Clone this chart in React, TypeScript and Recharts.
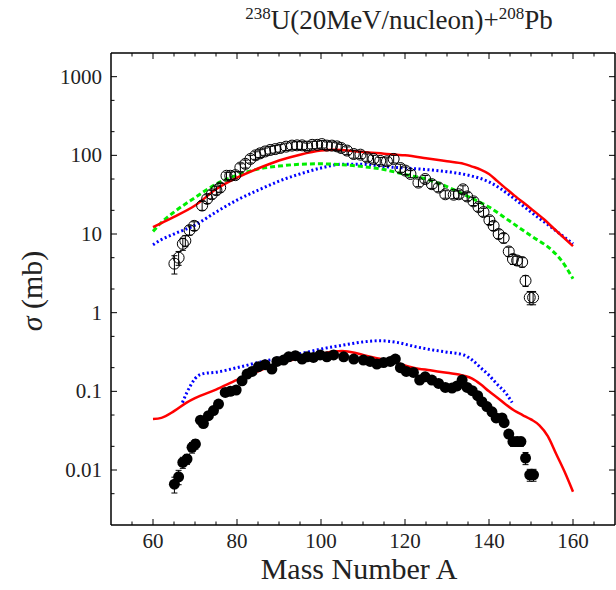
import React from "react";
import {
  ComposedChart,
  Line,
  Scatter,
  ErrorBar,
  XAxis,
  YAxis,
} from "recharts";

// measured points: [A, sigma (mb), error]
const upperData: number[][] = [
  [65.1, 4.2, 1.1], [66.1, 5.0, 1.0], [67.1, 7.5, 1.3], [67.7, 8.2, 1.3],
  [68.7, 11.2, 1.5], [69.8, 12.7, 1.6], [71.7, 23, 3], [72.9, 28, 3.5],
  [74.0, 32, 4], [75.1, 36, 4.5], [76.0, 39, 5], [77.5, 55, 6],
  [78.4, 55, 6], [79.6, 56, 6], [80.8, 70, 8], [82.0, 78, 9],
  [83.2, 90, 10], [84.4, 100, 11], [85.5, 106, 12], [86.7, 112, 12],
  [87.9, 117, 13], [89.1, 120, 13], [90.3, 124, 14], [91.7, 129, 14],
  [93.1, 133, 15], [94.3, 134, 15], [95.5, 134, 15], [96.7, 129, 14],
  [97.9, 136, 15], [99.1, 136, 15], [100.2, 139, 15], [101.4, 133, 15],
  [102.6, 133, 15], [103.8, 130, 14], [104.8, 124, 14], [106.2, 115, 13],
  [107.8, 104, 12], [109.4, 102, 11], [111.0, 94, 10], [112.5, 90, 10],
  [114.1, 85, 9], [115.7, 84, 9], [117.3, 90, 10], [118.9, 69, 8],
  [120.1, 64, 7], [121.3, 58, 6], [123.2, 45, 5], [124.8, 50, 5.5],
  [126.4, 43, 5], [128.0, 39, 4.5], [129.6, 32, 3.5], [131.6, 31.6, 3.5],
  [132.8, 32, 3.5], [133.8, 37, 4], [134.8, 30, 3.5], [136.3, 26, 3],
  [137.5, 22, 2.5], [138.7, 19, 2.2], [140.1, 15, 1.8], [141.1, 12.7, 1.6],
  [142.3, 10, 1.3], [143.5, 8.9, 1.2], [144.7, 6.0, 0.8], [145.7, 4.8, 0.7],
  [146.7, 4.6, 0.6], [147.9, 4.4, 0.6], [148.7, 2.55, 0.4], [149.7, 1.56, 0.3],
  [150.5, 1.56, 0.3],
];

const lowerData: number[][] = [
  [65.1, 0.0066, 0.0015], [66.1, 0.0082, 0.0017], [67.1, 0.0125, 0.002],
  [68.1, 0.0138, 0.002], [69.3, 0.0194, 0.003], [70.1, 0.0214, 0.003],
  [71.3, 0.043, 0.004], [72.0, 0.039, 0.004], [73.2, 0.049, 0.005],
  [74.4, 0.057, 0.006], [75.6, 0.069, 0.007], [77.2, 0.097, 0.01],
  [78.4, 0.1, 0.01], [79.8, 0.104, 0.01], [81.2, 0.136, 0.014],
  [82.4, 0.166, 0.017], [83.6, 0.179, 0.018], [85.1, 0.206, 0.02],
  [86.7, 0.218, 0.022], [88.3, 0.192, 0.02], [89.5, 0.24, 0.024],
  [91.1, 0.25, 0.025], [92.3, 0.275, 0.027], [93.9, 0.284, 0.028],
  [95.5, 0.257, 0.026], [96.7, 0.275, 0.027], [98.2, 0.27, 0.027],
  [99.8, 0.29, 0.029], [101.4, 0.275, 0.027], [103.0, 0.29, 0.029],
  [105.4, 0.275, 0.027], [107.8, 0.257, 0.026], [110.1, 0.25, 0.025],
  [111.7, 0.24, 0.024], [113.3, 0.222, 0.022], [114.9, 0.232, 0.023],
  [116.5, 0.24, 0.024], [117.7, 0.257, 0.026], [118.9, 0.2, 0.02],
  [120.3, 0.179, 0.018], [122.0, 0.174, 0.017], [123.5, 0.139, 0.014],
  [124.8, 0.153, 0.015], [126.4, 0.139, 0.014], [128.0, 0.126, 0.013],
  [129.6, 0.112, 0.011], [131.2, 0.11, 0.011], [132.4, 0.117, 0.012],
  [133.6, 0.139, 0.014], [134.8, 0.112, 0.011], [136.0, 0.102, 0.01],
  [137.3, 0.088, 0.009], [138.3, 0.074, 0.007], [139.5, 0.064, 0.006],
  [140.7, 0.055, 0.006], [141.7, 0.046, 0.005], [143.1, 0.046, 0.005],
  [143.6, 0.04, 0.004], [144.7, 0.0286, 0.003], [145.7, 0.023, 0.003],
  [146.7, 0.023, 0.003], [147.6, 0.023, 0.003], [148.7, 0.0142, 0.0025],
  [149.7, 0.0087, 0.0015], [150.6, 0.0087, 0.0015],
];

// model curves: [A, sigma]
const redUpper: number[][] = [
  [60, 12.2], [62, 13.8], [65, 16.5], [70, 23], [75, 37], [80, 52],
  [85, 68], [90, 86], [95, 102], [100, 115], [103, 118], [105, 117],
  [110, 110], [115, 105], [120, 100], [125, 92], [130, 84], [134, 78],
  [136, 72], [138, 66], [140, 58], [142, 47], [144, 38], [146, 31],
  [150, 21], [153, 15.5], [156, 11], [160, 7.0],
];

const greenUpper: number[][] = [
  [60, 10.8], [62, 14], [65, 19], [70, 29], [75, 43], [80, 56],
  [85, 67], [90, 73], [95, 77], [100, 78], [105, 76], [110, 72],
  [115, 66], [120, 57], [125, 50], [130, 40], [135, 30], [140, 22],
  [145, 14.5], [150, 9.5], [155, 6.2], [157, 4.8], [160, 2.7],
];

const blueUpper: number[][] = [
  [60, 7.3], [62, 8.5], [65, 10], [70, 13], [75, 19], [80, 27],
  [85, 36], [90, 47], [95, 58], [100, 69], [105, 77], [110, 77],
  [115, 72], [120, 69], [125, 66], [130, 62], [135, 56], [140, 46],
  [145, 31], [150, 19], [155, 12], [160, 7.5],
];

const redLower: number[][] = [
  [60, 0.0445], [62, 0.046], [65, 0.056], [68, 0.072], [70, 0.082],
  [75, 0.105], [80, 0.14], [85, 0.18], [90, 0.225], [95, 0.265],
  [100, 0.3], [103, 0.32], [105, 0.325], [108, 0.31], [110, 0.29],
  [114, 0.26], [118, 0.23], [122, 0.2], [126, 0.185], [130, 0.172],
  [134, 0.158], [136, 0.145], [138, 0.123], [140, 0.1], [142, 0.083],
  [144, 0.068], [146, 0.057], [148, 0.05], [150, 0.044], [152, 0.037],
  [154, 0.027], [156, 0.016], [158, 0.0095], [160, 0.0053],
];

const blueLower: number[][] = [
  [67, 0.072], [68, 0.095], [69, 0.12], [70, 0.145], [72, 0.168],
  [75, 0.175], [80, 0.2], [85, 0.232], [90, 0.265], [95, 0.3],
  [100, 0.345], [105, 0.385], [110, 0.425], [114, 0.44], [118, 0.42],
  [122, 0.375], [126, 0.34], [130, 0.315], [134, 0.29], [136, 0.25],
  [138, 0.2], [140, 0.16], [142, 0.122], [144, 0.095], [145.5, 0.072],
];

const xTicks = [55, 60, 65, 70, 75, 80, 85, 90, 95, 100, 105, 110, 115, 120, 125, 130, 135, 140, 145, 150, 155, 160, 165];
const xMajor = [60, 80, 100, 120, 140, 160];
const yTicks = [0.005, 0.01, 0.02, 0.05, 0.1, 0.2, 0.5, 1, 2, 5, 10, 20, 50, 100, 200, 500, 1000];
const yMajor = [0.01, 0.1, 1, 10, 100, 1000];

const pts = (rows: number[][]) => rows.map((r) => ({ a: r[0], s: r[1], e: r[2] }));

const FONT = "'Liberation Serif', 'DejaVu Serif', serif";

const BottomTick = (p: any) => {
  const major = xMajor.includes(p.payload.value);
  return (
    <g>
      <line x1={p.x} x2={p.x} y1={p.y} y2={p.y - (major ? 6 : 3.5)} stroke="#000" />
      {major && (
        <text x={p.x} y={p.y + 23} textAnchor="middle" fontFamily={FONT} fontSize={21} fill="#222">
          {p.payload.value}
        </text>
      )}
    </g>
  );
};

const TopTick = (p: any) => {
  const major = xMajor.includes(p.payload.value);
  return <line x1={p.x} x2={p.x} y1={p.y} y2={p.y + (major ? 6 : 3.5)} stroke="#000" />;
};

const LeftTick = (p: any) => {
  const major = yMajor.includes(p.payload.value);
  return (
    <g>
      <line x1={p.x} x2={p.x + (major ? 6 : 3.5)} y1={p.y} y2={p.y} stroke="#000" />
      {major && (
        <text x={p.x - 9} y={p.y + 7} textAnchor="end" fontFamily={FONT} fontSize={21} fill="#222">
          {p.payload.value}
        </text>
      )}
    </g>
  );
};

const RightTick = (p: any) => {
  const major = yMajor.includes(p.payload.value);
  return <line x1={p.x} x2={p.x - (major ? 6 : 3.5)} y1={p.y} y2={p.y} stroke="#000" />;
};

const OpenCircle = (p: any) => (
  <circle cx={p.cx} cy={p.cy} r={5.5} fill="none" stroke="#000" strokeWidth={1} />
);
const FilledCircle = (p: any) => <circle cx={p.cx} cy={p.cy} r={5.5} fill="#000" />;

export default function App() {
  return (
    <div style={{ position: "absolute", left: 0, top: 0, width: 616, height: 590, background: "#fff" }}>
      <ComposedChart width={616} height={590} margin={{ top: 52, right: 0, left: 30, bottom: 25 }}>
        <XAxis
          xAxisId={0}
          dataKey="a"
          type="number"
          domain={[50, 170]}
          ticks={xTicks}
          interval={0}
          tick={BottomTick}
          tickLine={false}
          tickSize={0}
          tickMargin={0}
          height={40}
          axisLine={{ stroke: "#000", strokeWidth: 1.5 }}
          allowDataOverflow
        />
        <XAxis
          xAxisId="top"
          orientation="top"
          dataKey="a"
          type="number"
          domain={[50, 170]}
          ticks={xTicks}
          interval={0}
          tick={TopTick}
          tickLine={false}
          tickSize={0}
          tickMargin={0}
          height={1}
          axisLine={{ stroke: "#000", strokeWidth: 1.5 }}
          allowDataOverflow
        />
        <YAxis
          yAxisId={0}
          type="number"
          scale="log"
          domain={[0.002, 2000]}
          ticks={yTicks}
          interval={0}
          tick={LeftTick}
          tickLine={false}
          tickSize={0}
          tickMargin={0}
          width={81}
          axisLine={{ stroke: "#000", strokeWidth: 1.5 }}
          allowDataOverflow
        />
        <YAxis
          yAxisId="right"
          orientation="right"
          type="number"
          scale="log"
          domain={[0.002, 2000]}
          ticks={yTicks}
          interval={0}
          tick={RightTick}
          tickLine={false}
          tickSize={0}
          tickMargin={0}
          width={1}
          axisLine={{ stroke: "#000", strokeWidth: 1.5 }}
          allowDataOverflow
        />
        <Line data={pts(blueUpper)} dataKey="s" type="monotone" stroke="#0000ff" strokeWidth={3} strokeDasharray="2 2.5" dot={false} isAnimationActive={false} />
        <Line data={pts(greenUpper)} dataKey="s" type="monotone" stroke="#00ee00" strokeWidth={3} strokeDasharray="5 3" dot={false} isAnimationActive={false} />
        <Line data={pts(redUpper)} dataKey="s" type="monotone" stroke="#ff0000" strokeWidth={2.5} dot={false} isAnimationActive={false} />
        <Line data={pts(blueLower)} dataKey="s" type="monotone" stroke="#0000ff" strokeWidth={3} strokeDasharray="2 2.5" dot={false} isAnimationActive={false} />
        <Line data={pts(redLower)} dataKey="s" type="monotone" stroke="#ff0000" strokeWidth={2.5} dot={false} isAnimationActive={false} />
        <Scatter data={pts(upperData)} dataKey="s" shape={OpenCircle} isAnimationActive={false}>
          <ErrorBar dataKey="e" direction="y" width={3} stroke="#000" strokeWidth={1} />
        </Scatter>
        <Scatter data={pts(lowerData)} dataKey="s" shape={FilledCircle} isAnimationActive={false}>
          <ErrorBar dataKey="e" direction="y" width={3} stroke="#000" strokeWidth={1} />
        </Scatter>
      </ComposedChart>
      <div
        style={{
          position: "absolute", left: 199, width: 400, top: 2, textAlign: "center",
          fontFamily: FONT, fontSize: 27, lineHeight: "36px", color: "#222", pointerEvents: "none",
        }}
      >
        <span style={{ fontSize: 17, position: "relative", top: -10 }}>238</span>U(20MeV/nucleon)+
        <span style={{ fontSize: 17, position: "relative", top: -10 }}>208</span>Pb
      </div>
      <div
        style={{
          position: "absolute", left: 159, width: 400, top: 554, textAlign: "center",
          fontFamily: FONT, fontSize: 30, lineHeight: "30px", color: "#222", pointerEvents: "none",
        }}
      >
        Mass Number A
      </div>
      <div
        style={{
          position: "absolute", left: -68, top: 271, width: 200, height: 40, textAlign: "center",
          transform: "rotate(-90deg)", fontFamily: FONT, fontSize: 30, lineHeight: "40px",
          color: "#222", pointerEvents: "none",
        }}
      >
        <i>σ</i> (mb)
      </div>
    </div>
  );
}
